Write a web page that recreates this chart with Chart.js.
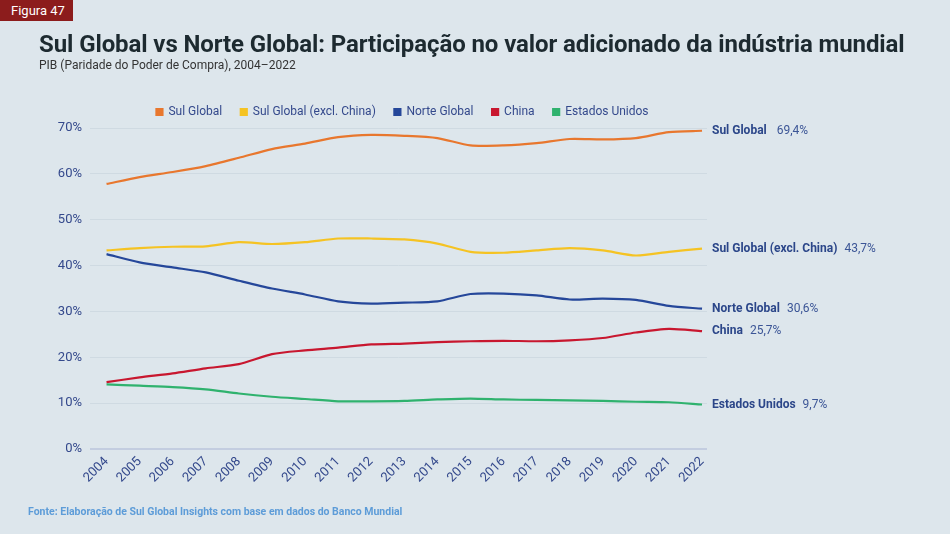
<!DOCTYPE html>
<html>
<head>
<meta charset="utf-8">
<script src="https://cdn.jsdelivr.net/npm/chart.js@4"></script>
<style>
  html, body { margin: 0; padding: 0; background: #dde6ec; font-family: Roboto, sans-serif; }
  #wrap { position: relative; width: 950px; height: 534px; overflow: hidden; }
  #badge { position: absolute; left: 0; top: 0; width: 73px; height: 21px; background: #8c1c1c; color: #fff; font-size: 13px; line-height: 21px; padding-left: 11px; box-sizing: border-box; }
  #title { position: absolute; left: 39px; top: 30px; font-size: 24px; font-weight: 700; color: #1d2a30; white-space: nowrap; letter-spacing: -0.1px; }
  #subtitle { position: absolute; left: 39px; top: 58px; font-size: 12px; color: #333; white-space: nowrap; }
  #source { position: absolute; left: 28px; top: 505px; font-size: 10.5px; font-weight: 700; color: #5d9cd8; white-space: nowrap; }
  #chart { position: absolute; left: 0; top: 0; }
</style>
</head>
<body>
<div id="wrap">
  <canvas id="chart" width="950" height="534"></canvas>
  <div id="badge">Figura 47</div>
  <div id="title">Sul Global vs Norte Global: Participação no valor adicionado da indústria mundial</div>
  <div id="subtitle">PIB (Paridade do Poder de Compra), 2004–2022</div>
  <div id="source">Fonte: Elaboração de Sul Global Insights com base em dados do Banco Mundial</div>
</div>
<script>
var years = [2004, 2005, 2006, 2007, 2008, 2009, 2010, 2011, 2012, 2013, 2014, 2015, 2016, 2017, 2018, 2019, 2020, 2021, 2022];
var sulGlobal = [57.8, 59.3, 60.4, 61.7, 63.5, 65.4, 66.6, 68.0, 68.5, 68.3, 67.8, 66.2, 66.2, 66.7, 67.6, 67.5, 67.8, 69.1, 69.4];
var sulGlobalExcl = [43.3, 43.8, 44.1, 44.2, 45.1, 44.7, 45.1, 45.9, 45.9, 45.7, 44.8, 43.0, 42.8, 43.3, 43.8, 43.3, 42.2, 43.0, 43.7];
var norteGlobal = [42.5, 40.7, 39.6, 38.5, 36.7, 35.0, 33.7, 32.2, 31.7, 31.9, 32.2, 33.8, 33.9, 33.5, 32.6, 32.8, 32.5, 31.2, 30.6];
var china = [14.6, 15.6, 16.5, 17.6, 18.5, 20.7, 21.5, 22.1, 22.8, 23.0, 23.3, 23.5, 23.6, 23.5, 23.7, 24.2, 25.4, 26.2, 25.7];
var estadosUnidos = [14.1, 13.8, 13.5, 13.0, 12.1, 11.4, 10.9, 10.4, 10.4, 10.5, 10.8, 11.0, 10.8, 10.7, 10.6, 10.5, 10.3, 10.2, 9.7];
var yTicks = [0, 10, 20, 30, 40, 50, 60, 70];

var names = ['Sul Global', 'Sul Global (excl. China)', 'Norte Global', 'China', 'Estados Unidos'];
var colors = ['#e8772e', '#f5c323', '#25479a', '#c8172f', '#2fb26e'];
var series = [sulGlobal, sulGlobalExcl, norteGlobal, china, estadosUnidos];

function pts(arr) {
    return arr.map(function (v, i) { return { x: years[i], y: v }; });
}

var datasets = series.map(function (s, i) {
    return {
        label: names[i],
        data: pts(s),
        borderColor: colors[i],
        backgroundColor: colors[i],
        borderWidth: 2.2,
        pointRadius: 0,
        tension: 0.25
    };
});

// labels at the right end of each line
var endLabels = {
    id: 'endLabels',
    afterDatasetsDraw: function (chart) {
        var ctx = chart.ctx;
        ctx.save();
        ctx.textBaseline = 'middle';
        chart.data.datasets.forEach(function (ds, i) {
            var meta = chart.getDatasetMeta(i);
            var last = meta.data[meta.data.length - 1];
            var y = last.y;
            var x = 712;
            ctx.font = 'bold 12px Roboto';
            ctx.fillStyle = '#2b4689';
            ctx.fillText(ds.label, x, y);
            var w = ctx.measureText(ds.label).width;
            ctx.font = '12px Roboto';
            ctx.fillStyle = '#3b5596';
            var v = ds.data[ds.data.length - 1].y.toFixed(1).replace('.', ',') + '%';
            ctx.fillText(v, x + w + (i === 0 ? 10 : 7), y);
        });
        ctx.restore();
    }
};

// center the legend over the plot area instead of the whole box
var legendShift = {
    id: 'legendShift',
    afterLayout: function (chart) {
        var lg = chart.legend;
        var d = (chart.chartArea.left + chart.chartArea.right) / 2 - (lg.left + lg.right) / 2 + 4;
        lg.left += d;
        lg.right += d;
    }
};

var ctx = document.getElementById('chart').getContext('2d');
var chart = new Chart(ctx, {
    type: 'line',
    data: { datasets: datasets },
    options: {
        responsive: false,
        animation: false,
        layout: { padding: { top: 96, left: 40, right: 243, bottom: 45 } },
        plugins: {
            legend: {
                display: true,
                position: 'top',
                labels: {
                    usePointStyle: true,
                    pointStyle: 'rect',
                    boxWidth: 6,
                    boxHeight: 6,
                    padding: 10,
                    color: '#34498c',
                    font: { family: 'Roboto', size: 12 },
                    generateLabels: function (chart) {
                        var items = Chart.defaults.plugins.legend.labels.generateLabels(chart);
                        items.forEach(function (it, i) {
                            if (i < items.length - 1) it.text = it.text + '\u2002\u2009';
                        });
                        return items;
                    }
                }
            },
            tooltip: { enabled: false }
        },
        scales: {
            x: {
                type: 'linear',
                min: 2003.5,
                max: 2022.15,
                afterBuildTicks: function (scale) {
                    scale.ticks = years.map(function (y) { return { value: y }; });
                },
                afterFit: function (scale) { scale.height = 40; },
                grid: { display: false, drawTicks: false },
                border: { display: false },
                ticks: {
                    autoSkip: false,
                    minRotation: 45,
                    maxRotation: 45,
                    padding: 5,
                    color: '#34498c',
                    font: { family: 'Roboto', size: 13 },
                    callback: function (v) { return String(v); }
                }
            },
            y: {
                min: 0,
                max: 70,
                afterBuildTicks: function (scale) {
                    scale.ticks = yTicks.map(function (v) { return { value: v }; });
                },
                afterFit: function (scale) { scale.width = 50; },
                border: { display: false },
                grid: {
                    drawTicks: false,
                    color: function (c) { return c.tick && c.tick.value === 0 ? '#c3cde0' : '#cfdae2'; },
                    lineWidth: function (c) { return c.tick && c.tick.value === 0 ? 2 : 1; }
                },
                ticks: {
                    padding: 8,
                    color: '#34498c',
                    font: { family: 'Roboto', size: 13 },
                    callback: function (v) { return v + '%'; }
                }
            }
        }
    },
    plugins: [endLabels, legendShift]
});
</script>
</body>
</html>
